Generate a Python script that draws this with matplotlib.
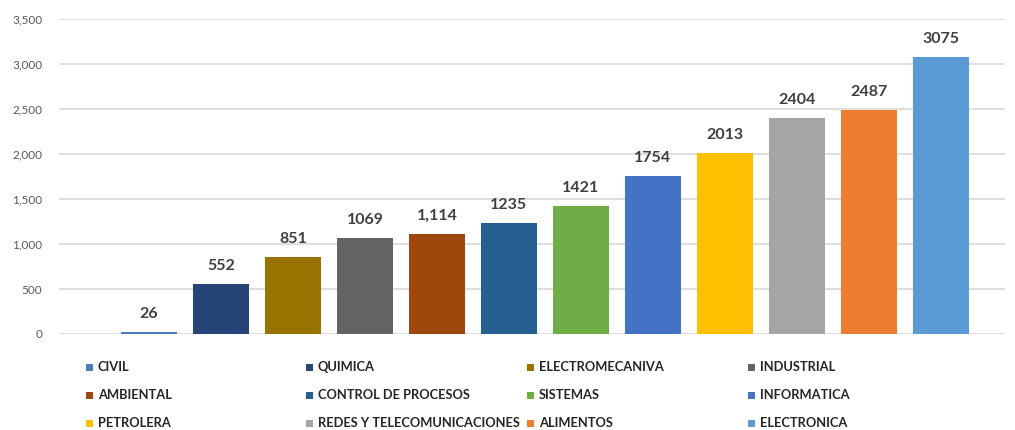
import matplotlib
matplotlib.use("Agg")
import matplotlib.pyplot as plt
from matplotlib.patches import Rectangle

categories = ["CIVIL", "QUIMICA", "ELECTROMECANIVA", "INDUSTRIAL", "AMBIENTAL",
              "CONTROL DE PROCESOS", "SISTEMAS", "INFORMATICA", "PETROLERA",
              "REDES Y TELECOMUNICACIONES", "ALIMENTOS", "ELECTRONICA"]
values = [26, 552, 851, 1069, 1114, 1235, 1421, 1754, 2013, 2404, 2487, 3075]
value_labels = ["26", "552", "851", "1069", "1,114", "1235", "1421", "1754",
                "2013", "2404", "2487", "3075"]
colors = ["#4A7EBB", "#264478", "#997300", "#636363", "#9E480E", "#255E91",
          "#70AD47", "#4472C4", "#FFC000", "#A5A5A5", "#ED7D31", "#5B9BD5"]
yticks = [0, 500, 1000, 1500, 2000, 2500, 3000, 3500]
ytick_labels = ["0", "500", "1,000", "1,500", "2,000", "2,500", "3,000", "3,500"]

plt.rcParams['font.family'] = ['Lato', 'DejaVu Sans']

W, H = 1015, 430
fig = plt.figure(figsize=(W / 100, H / 100), dpi=100)
ax = fig.add_axes([59 / W, (H - 334) / H, (1005 - 59) / W, (334 - 19) / H])

x = list(range(len(values)))
ax.bar(x, values, width=0.78, color=colors, zorder=3)
for xi, v, lab in zip(x, values, value_labels):
    ax.annotate(lab, (xi, v), xytext=(0, 8), textcoords="offset points",
                ha="center", va="bottom", fontsize=11.5, fontweight="bold",
                color="#404040")

ax.set_xlim(-1.25, 11.89)
ax.set_ylim(0, 3500)
ax.set_yticks(yticks)
ax.set_yticklabels(ytick_labels)
ax.set_xticks([])
ax.tick_params(axis="y", length=0, pad=12, labelsize=8.5, labelcolor="#595959")
ax.grid(axis="y", color="#D9D9D9", linewidth=1.2, zorder=0)
for s in ax.spines.values():
    s.set_visible(False)

# legend: 4 columns, 3 rows (row-major)
col_x = [86, 306, 527, 748]
row_y = [367, 395, 423]
sq = 7
for i, (name, c) in enumerate(zip(categories, colors)):
    cx = col_x[i % 4]
    cy = row_y[i // 4]
    fig.patches.append(Rectangle((cx / W, (H - cy - sq / 2) / H), sq / W, sq / H,
                                 transform=fig.transFigure, facecolor=c,
                                 edgecolor="none"))
    fig.text((cx + 12) / W, (H - cy) / H, name, ha="left", va="center",
             fontsize=9.3, fontweight="bold", color="#262626")

fig.savefig("out.png", dpi=100)
